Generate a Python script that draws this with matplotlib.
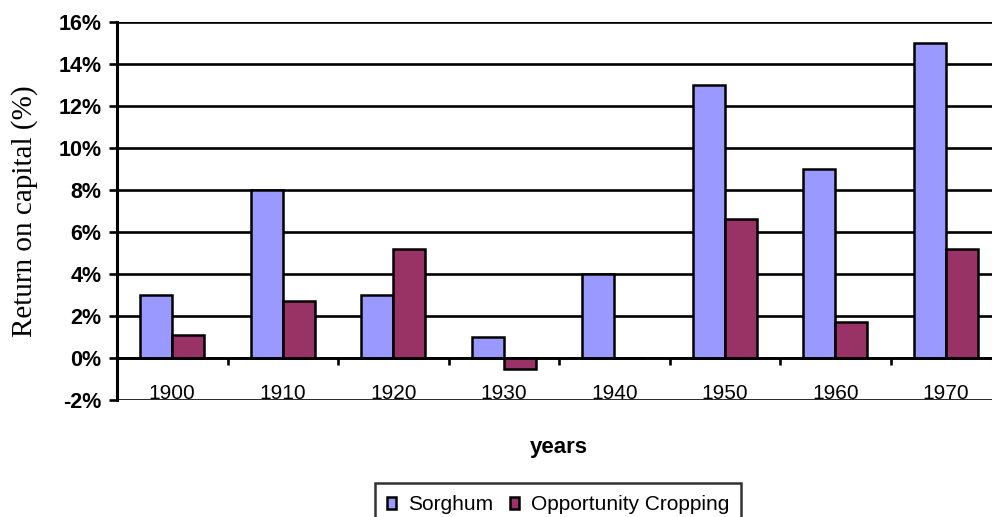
import numpy as np
import matplotlib.pyplot as plt
from matplotlib.ticker import FuncFormatter, FixedLocator

# ── Data ──────────────────────────────────────────────────────────────────────
years = ['1900', '1910', '1920', '1930', '1940', '1950', '1960', '1970']
sorghum = [3.0, 8.0, 3.0, 1.0, 4.0, 13.0, 9.0, 15.0]
opportunity = [1.1, 2.7, 5.2, -0.5, 0.0, 6.6, 1.7, 5.2]
y_ticks = [-2, 0, 2, 4, 6, 8, 10, 12, 14, 16]

plt.rcParams['font.family'] = ['Liberation Sans', 'DejaVu Sans']

W, H = 992, 517
fig = plt.figure(figsize=(W / 100, H / 100), dpi=100)
ax = fig.add_axes([117 / W, 1 - 400 / H, (1001 - 117) / W, (400 - 22) / H])

x = np.arange(len(years))
bw = 0.29
ax.bar(x - bw / 2, sorghum, bw, color='#9999FF', edgecolor='black',
       linewidth=1.8, label='Sorghum', zorder=3)
ax.bar(x + bw / 2, opportunity, bw, color='#993366', edgecolor='black',
       linewidth=1.8, label='Opportunity Cropping', zorder=3)

ax.set_xlim(-0.5, len(years) - 0.5)
ax.set_ylim(-2, 16)

# horizontal gridlines
ax.yaxis.set_major_locator(FixedLocator(y_ticks))
ax.yaxis.set_major_formatter(FuncFormatter(lambda v, _: f'{v:.0f}%'))
ax.grid(axis='y', color='black', linewidth=1.9, zorder=0)
ax.tick_params(axis='y', direction='out', length=6, width=1.9, pad=5,
               labelsize=15.5)
for lbl in ax.get_yticklabels():
    lbl.set_fontweight('bold')

# category axis sits on the zero line
ax.spines['bottom'].set_position(('data', 0))
ax.spines['bottom'].set_linewidth(1.9)
ax.spines['bottom'].set_zorder(4)
ax.spines['top'].set_visible(False)
ax.spines['right'].set_visible(False)
ax.spines['left'].set_linewidth(2.2)
ax.set_xticks(x)
ax.set_xticklabels(years)
ax.set_xticks(x[:-1] + 0.5, minor=True)
ax.tick_params(axis='x', which='major', length=0, pad=19, labelsize=15)
ax.tick_params(axis='x', which='minor', direction='out', length=5, width=1.9)

fig.text((117 + 1001) / 2 / W, 1 - 447 / H, 'years', ha='center',
         va='center', fontsize=16, fontweight='bold')
fig.text(25 / W, 1 - 211 / H, 'Return on capital (%)', rotation=90,
         ha='center', va='center', fontsize=21, family='Liberation Serif')

leg = fig.legend(loc='upper center', bbox_to_anchor=(558 / W, 1 - 483 / H),
                 ncol=2, fontsize=15, frameon=True, fancybox=False,
                 edgecolor='black', handlelength=0.45, handleheight=0.45,
                 handletextpad=0.55, columnspacing=0.8, borderpad=0.6,
                 borderaxespad=0)
leg.get_frame().set_linewidth(1.8)

fig.savefig('out.png', dpi=100)
